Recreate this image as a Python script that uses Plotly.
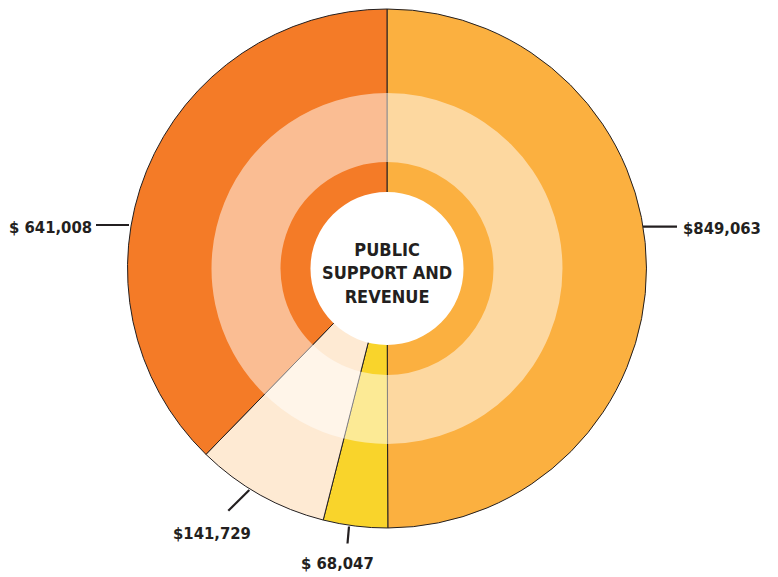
import plotly.graph_objects as go

# ---- data ----
categories = ["Segment A", "Segment B", "Segment C", "Segment D"]
values = [849063, 68047, 141729, 641008]
value_labels = ["$849,063", "$ 68,047", "$141,729", "$ 641,008"]
colors = ["#FBB040", "#F9D42B", "#FEEAD3", "#F47B27"]
center_title = ["PUBLIC", "SUPPORT AND", "REVENUE"]

OFF = 8                      # page body margin in the browser
W, H = 778 - OFF, 577 - OFF
CX, CY = 387, 268.5          # pie centre in window px (from top-left)
R_OUT, R_BAND_OUT, R_BAND_IN, R_CENTER = 259.5, 175.5, 106.5, 76.5
FONT = "DejaVu Sans Condensed, Liberation Sans Narrow, Arial Narrow, sans-serif"
INK = "#231F20"


def px(x):
    return (x - OFF) / W


def py(y):
    return (H - (y - OFF)) / H


def dom(r):
    return dict(x=[px(CX - r), px(CX + r)], y=[py(CY + r), py(CY - r)])


fig = go.Figure()

# outer full pie
fig.add_trace(go.Pie(
    labels=categories, values=values, sort=False, direction="clockwise",
    rotation=0, domain=dom(R_OUT), textinfo="none", hoverinfo="label+value",
    marker=dict(colors=colors, line=dict(color=INK, width=1)),
    showlegend=False,
))

# translucent light band
fig.add_trace(go.Pie(
    labels=categories, values=values, sort=False, direction="clockwise",
    rotation=0, domain=dom(R_BAND_OUT), hole=R_BAND_IN / R_BAND_OUT,
    textinfo="none", hoverinfo="skip",
    marker=dict(colors=["rgba(255,255,255,0.5)"] * len(values),
                line=dict(width=0)),
    showlegend=False,
))

# white centre disc
fig.add_trace(go.Pie(
    labels=["centre"], values=[1], domain=dom(R_CENTER), textinfo="none",
    hoverinfo="skip", marker=dict(colors=["#FFFFFF"], line=dict(width=0)),
    showlegend=False,
))

# centre title
fig.add_annotation(
    x=px(CX), y=py(CY + 4), xref="paper", yref="paper",
    text="<br>".join(center_title), showarrow=False,
    font=dict(family=FONT, size=18, color=INK, weight="bold"), align="center",
)

# value labels (text position in window px, anchor)
label_pos = [
    (681, 228, "left"),
    (337, 563, "center"),
    (212, 533, "center"),
    (94, 227, "right"),
]
for txt, (x, y, anc) in zip(value_labels, label_pos):
    fig.add_annotation(
        x=px(x), y=py(y), xref="paper", yref="paper", text=txt,
        showarrow=False, xanchor=anc, yanchor="middle",
        font=dict(family=FONT, size=16.5, color=INK, weight="bold"),
    )

# leader lines (window px)
leaders = [
    (643, 226.7, 677, 226.7),
    (349, 526.5, 347.5, 543.5),
    (249.3, 490, 228.3, 510.7),
    (96, 225, 129, 225),
]
for x0, y0, x1, y1 in leaders:
    fig.add_shape(type="line", xref="paper", yref="paper",
                  x0=px(x0), y0=py(y0), x1=px(x1), y1=py(y1),
                  line=dict(color=INK, width=2.2))

fig.update_layout(
    width=W, height=H, margin=dict(l=0, r=0, t=0, b=0),
    paper_bgcolor="white", plot_bgcolor="white",
)

fig.write_html("out.html")
